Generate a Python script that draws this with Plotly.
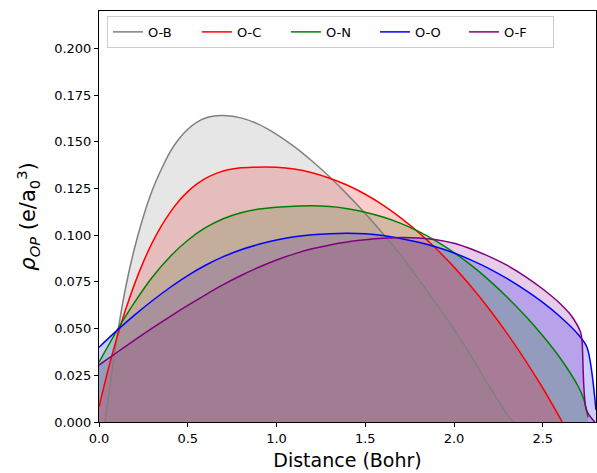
import plotly.graph_objects as go

labels = ["O-B", "O-C", "O-N", "O-O", "O-F"]
colors = ["#808080", "#ff0000", "#008000", "#0000ff", "#800080"]
fills = ["rgba(128,128,128,0.2)", "rgba(255,0,0,0.2)", "rgba(0,128,0,0.2)",
         "rgba(0,0,255,0.2)", "rgba(128,0,128,0.2)"]

# O-B
x_ob = [0.034, 0.05, 0.1, 0.15, 0.2, 0.25, 0.3, 0.35, 0.4, 0.45, 0.5, 0.55, 0.6,
        0.65, 0.7, 0.8, 0.9, 1.0, 1.1, 1.2, 1.3, 1.4, 1.5, 1.6, 1.7, 1.8, 1.9, 2.0, 2.1,
        2.2, 2.3, 2.333]
y_ob = [0.0, 0.011, 0.0445, 0.072, 0.093, 0.110, 0.124, 0.135, 0.1445, 0.1515,
        0.1567, 0.1604, 0.1627, 0.1638, 0.164, 0.1628, 0.1593, 0.154, 0.1474, 0.1397,
        0.1311, 0.1217, 0.1116, 0.1008, 0.0894, 0.0765, 0.0635, 0.0497, 0.0348, 0.019,
        0.004, 0.0]

# O-C
x_oc = [0.0, 0.05, 0.1, 0.15, 0.2, 0.25, 0.3, 0.35, 0.4, 0.45, 0.5, 0.55, 0.6,
        0.65, 0.7, 0.75, 0.8, 0.87, 0.94, 1.0, 1.1, 1.2, 1.3, 1.4, 1.5, 1.6, 1.7, 1.8, 1.9,
        2.0, 2.1, 2.2, 2.3, 2.4, 2.5, 2.61]
y_oc = [0.008, 0.0274, 0.0448, 0.0602, 0.0738, 0.0857, 0.0960, 0.1047, 0.1121, 0.1183,
        0.1233, 0.1273, 0.1304, 0.1327, 0.1344, 0.1354, 0.1361, 0.1364, 0.1365, 0.1364,
        0.1354, 0.1334, 0.1305, 0.1267, 0.1219, 0.1161, 0.1093, 0.1015, 0.0927, 0.0829,
        0.0721, 0.0602, 0.0473, 0.0333, 0.0182, 0.0]

# O-N
x_on = [0.0, 0.1, 0.2, 0.3, 0.4, 0.5, 0.6, 0.7, 0.8, 0.9, 1.0, 1.1, 1.2, 1.3, 1.4, 1.5,
        1.6, 1.7, 1.8, 1.9, 2.0, 2.1, 2.2, 2.3, 2.4, 2.5, 2.6, 2.7, 2.73, 2.755]
y_on = [0.032, 0.0488, 0.064, 0.0775, 0.0885, 0.0973, 0.104, 0.1088, 0.112, 0.114, 0.115,
        0.1155, 0.1157, 0.1153, 0.1142, 0.1123, 0.1097, 0.1063, 0.102, 0.0968, 0.0907,
        0.0837, 0.0757, 0.0668, 0.057, 0.0462, 0.034, 0.019, 0.0125, 0.0025]

# O-O
x_oo = [0.0, 0.1, 0.2, 0.3, 0.4, 0.5, 0.6, 0.7, 0.8, 0.9, 1.0, 1.1, 1.2, 1.3, 1.4, 1.5,
        1.6, 1.7, 1.8, 1.9, 2.0, 2.1, 2.2, 2.3, 2.4, 2.5, 2.6, 2.7, 2.75, 2.8]
y_oo = [0.040, 0.0489, 0.0572, 0.0649, 0.0720, 0.0784, 0.0839, 0.0885, 0.0922, 0.0951,
        0.0974, 0.0991, 0.1002, 0.1008, 0.101, 0.1007, 0.0998, 0.0982, 0.0962, 0.0937,
        0.0905, 0.0865, 0.082, 0.0767, 0.0707, 0.064, 0.0562, 0.0468, 0.0398, 0.0064]

# O-F
x_of = [0.0, 0.1, 0.2, 0.3, 0.4, 0.5, 0.6, 0.7, 0.8, 0.9, 1.0, 1.1, 1.2, 1.3, 1.4, 1.5,
        1.6, 1.7, 1.8, 1.9, 2.0, 2.1, 2.2, 2.3, 2.4, 2.5, 2.6, 2.66, 2.712, 2.721, 2.746,
        2.793]
y_of = [0.0305, 0.0372, 0.0438, 0.0502, 0.0564, 0.0624, 0.0681, 0.0735, 0.0784, 0.0828,
        0.0867, 0.0900, 0.0927, 0.0948, 0.0964, 0.0975, 0.0983, 0.0987, 0.0985, 0.0976,
        0.0957, 0.0925, 0.0885, 0.0838, 0.078, 0.0712, 0.0632, 0.057, 0.0483, 0.0439,
        0.0064, 0.0]

xs = [x_ob, x_oc, x_on, x_oo, x_of]
ys = [y_ob, y_oc, y_on, y_oo, y_of]

x_ticks = [0.0, 0.5, 1.0, 1.5, 2.0, 2.5]
x_ticklabels = ["0.0", "0.5", "1.0", "1.5", "2.0", "2.5"]
y_ticks = [0.0, 0.025, 0.05, 0.075, 0.1, 0.125, 0.15, 0.175, 0.2]
y_ticklabels = ["0.000", "0.025", "0.050", "0.075", "0.100", "0.125", "0.150", "0.175", "0.200"]

fig = go.Figure()
# shaded areas (drawn first, last series at the bottom)
for i in reversed(range(len(labels))):
    fig.add_trace(go.Scatter(
        x=xs[i], y=ys[i], mode="lines", fill="tozeroy", fillcolor=fills[i],
        line=dict(color="rgba(0,0,0,0)", width=0, shape="spline", smoothing=0.8),
        showlegend=False, hoverinfo="skip"))
# curves on top
for lab, c, x, y in zip(labels, colors, xs, ys):
    fig.add_trace(go.Scatter(
        x=x, y=y, mode="lines", name=lab,
        line=dict(color=c, width=1.5, shape="spline", smoothing=0.8), hoverinfo="skip"))

font = "DejaVu Sans, sans-serif"
fig.update_layout(
    width=597, height=473,
    margin=dict(l=99, r=1, t=11, b=51),
    paper_bgcolor="white", plot_bgcolor="white",
    font=dict(family=font, color="black", size=13),
    showlegend=True,
    legend=dict(
        orientation="h", x=0.016, y=0.988, xanchor="left", yanchor="top",
        bgcolor="rgba(255,255,255,0.8)", bordercolor="#cccccc", borderwidth=1,
        font=dict(family=font, size=13, color="black"),
        entrywidth=44, entrywidthmode="pixels", tracegroupgap=0,
    ),
    xaxis=dict(
        range=[0, 2.8], tickvals=x_ticks, ticktext=x_ticklabels,
        showgrid=False, zeroline=False, showline=True, linecolor="black", linewidth=1,
        mirror=True, ticks="outside", ticklen=4, tickwidth=1, tickcolor="black",
        tickfont=dict(size=13),
        title=dict(text="Distance (Bohr)", font=dict(size=19), standoff=9),
    ),
    yaxis=dict(
        range=[0, 0.22], tickvals=y_ticks, ticktext=y_ticklabels,
        showgrid=False, zeroline=False, showline=True, linecolor="black", linewidth=1,
        mirror=True, ticks="outside", ticklen=4, tickwidth=1, tickcolor="black",
        tickfont=dict(size=13),
        title=dict(text="<i>ρ</i><sub><i>OP</i></sub> (e/a<sub>0</sub><sup>3</sup>)",
                   font=dict(size=21), standoff=12),
    ),
)

fig.write_html("out.html")
